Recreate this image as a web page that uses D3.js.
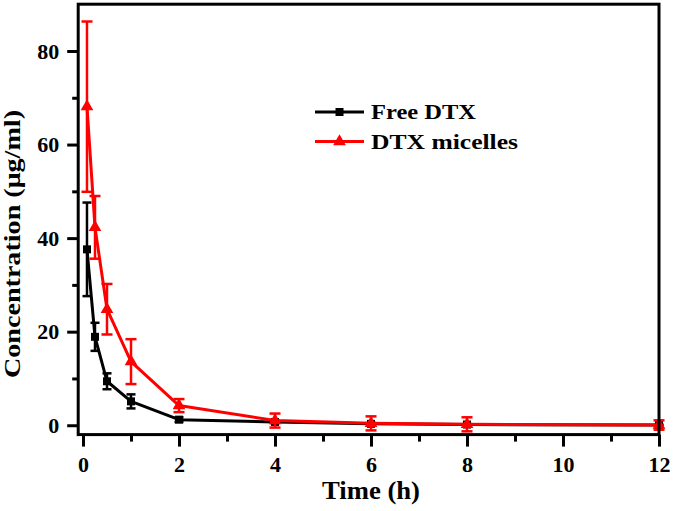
<!DOCTYPE html>
<html>
<head>
<meta charset="utf-8">
<script src="https://cdn.jsdelivr.net/npm/d3@7"></script>
<style>
  html, body { margin: 0; padding: 0; background: #fff; }
  svg { display: block; }
  text { font-family: "Liberation Serif", "Times New Roman", serif; font-weight: bold; }
</style>
</head>
<body>
<svg id="chart" width="675" height="511"></svg>
<script>
// ---- data ----
const timeH    = [0.083, 0.25, 0.5, 1, 2, 4, 6, 8, 12];
const freeMean = [37.6, 18.9, 9.4, 5.1, 1.2, 0.7, 0.3, 0.15, 0.05];
const freeErr  = [10.0, 3.0, 1.7, 1.5, 0.5, 0.3, 0.2, 0.1, 0.1];
const micMean  = [68.1, 42.3, 24.8, 13.6, 4.2, 1.0, 0.4, 0.2, 0.05];
const micErr   = [18.2, 6.7, 5.4, 4.8, 1.4, 1.5, 1.5, 1.5, 1.0];
const seriesNames = ["Free DTX", "DTX micelles"];
const xMajorTicks = [0, 2, 4, 6, 8, 10, 12];
const xMinorTicks = [1, 3, 5, 7, 9, 11];
const yMajorTicks = [0, 20, 40, 60, 80];
const yMinorTicks = [10, 30, 50, 70];
const xTitle = "Time (h)";
const yTitle = "Concentration (μg/ml)";

const svg = d3.select("#chart");
const x = d3.scaleLinear().domain([-0.1, 12]).range([78.2, 659]);
const y = d3.scaleLinear().domain([-2, 90]).range([434.6, 4.2]);

// axes
const xAx = svg.append("g").attr("transform", `translate(0,${y(-2)})`)
  .call(d3.axisBottom(x).tickValues(xMajorTicks).tickSize(12).tickPadding(10).tickFormat(d3.format("d")));
const xAxMin = svg.append("g").attr("transform", `translate(0,${y(-2)})`)
  .call(d3.axisBottom(x).tickValues(xMinorTicks).tickSize(7).tickFormat(""));
const yAx = svg.append("g").attr("transform", `translate(${x(-0.1)},0)`)
  .call(d3.axisLeft(y).tickValues(yMajorTicks).tickSize(11).tickPadding(8).tickFormat(d3.format("d")));
const yAxMin = svg.append("g").attr("transform", `translate(${x(-0.1)},0)`)
  .call(d3.axisLeft(y).tickValues(yMinorTicks).tickSize(6).tickFormat(""));
[xAx, xAxMin, yAx, yAxMin].forEach(g => {
  g.select(".domain").remove();
  g.selectAll(".tick line").attr("stroke", "#000").attr("stroke-width", 3);
  g.selectAll(".tick text").attr("font-size", 22).attr("fill", "#000")
    .style("font-family", '"Liberation Serif", serif').style("font-weight", "bold");
});

// series
const series = [
  { name: seriesNames[0], mean: freeMean, err: freeErr, color: "#000000", marker: "square", cap: 9 },
  { name: seriesNames[1], mean: micMean, err: micErr, color: "#FF0000", marker: "triangle", cap: 11 }
];
const line = d3.line().x(d => x(d.t)).y(d => y(d.v));
const symSquare = d3.symbol().type(d3.symbolSquare).size(64);
const symTri = d3.symbol().type(d3.symbolTriangle).size(70);

series.forEach(s => {
  const pts = timeH.map((t, i) => ({ t, v: s.mean[i], e: s.err[i] }));
  const g = svg.append("g");
  const eb = g.selectAll(".eb").data(pts).enter().append("g");
  eb.append("line")
    .attr("x1", d => x(d.t)).attr("x2", d => x(d.t))
    .attr("y1", d => y(d.v + d.e)).attr("y2", d => y(d.v - d.e))
    .attr("stroke", s.color).attr("stroke-width", 2.5);
  [1, -1].forEach(sg => {
    eb.append("line")
      .attr("x1", d => x(d.t) - s.cap / 2).attr("x2", d => x(d.t) + s.cap / 2)
      .attr("y1", d => y(d.v + sg * d.e)).attr("y2", d => y(d.v + sg * d.e))
      .attr("stroke", s.color).attr("stroke-width", 2.5);
  });
  g.append("path").datum(pts).attr("d", line)
    .attr("fill", "none").attr("stroke", s.color).attr("stroke-width", 3).attr("stroke-linejoin", "round");
  g.selectAll(".mk").data(pts).enter().append("path")
    .attr("d", s.marker === "square" ? symSquare : symTri)
    .attr("transform", d => `translate(${x(d.t)},${y(d.v)})`)
    .attr("fill", s.color);
});

// frame
svg.append("rect")
  .attr("x", x(-0.1)).attr("y", y(90))
  .attr("width", x(12) - x(-0.1)).attr("height", y(-2) - y(90))
  .attr("fill", "none").attr("stroke", "#000").attr("stroke-width", 3);

// titles
svg.append("text").attr("x", 371).attr("y", 499).attr("text-anchor", "middle")
  .attr("font-size", 25).attr("textLength", 98).attr("lengthAdjust", "spacingAndGlyphs").text(xTitle);
svg.append("text").attr("transform", "translate(20,244) rotate(-90)").attr("text-anchor", "middle")
  .attr("font-size", 23).attr("textLength", 268).attr("lengthAdjust", "spacingAndGlyphs").text(yTitle);

// legend
const legY = [112, 141.5];
const legLen = [105, 147];
series.forEach((s, i) => {
  const lg = svg.append("g");
  lg.append("line").attr("x1", 315).attr("x2", 364).attr("y1", legY[i]).attr("y2", legY[i])
    .attr("stroke", s.color).attr("stroke-width", 3);
  lg.append("path").attr("d", s.marker === "square" ? symSquare : symTri)
    .attr("transform", `translate(339.5,${legY[i]})`).attr("fill", s.color);
  lg.append("text").attr("x", 371).attr("y", legY[i] + 7.3).attr("font-size", 22)
    .attr("textLength", legLen[i]).attr("lengthAdjust", "spacingAndGlyphs").attr("fill", "#000").text(s.name);
});
</script>
</body>
</html>
